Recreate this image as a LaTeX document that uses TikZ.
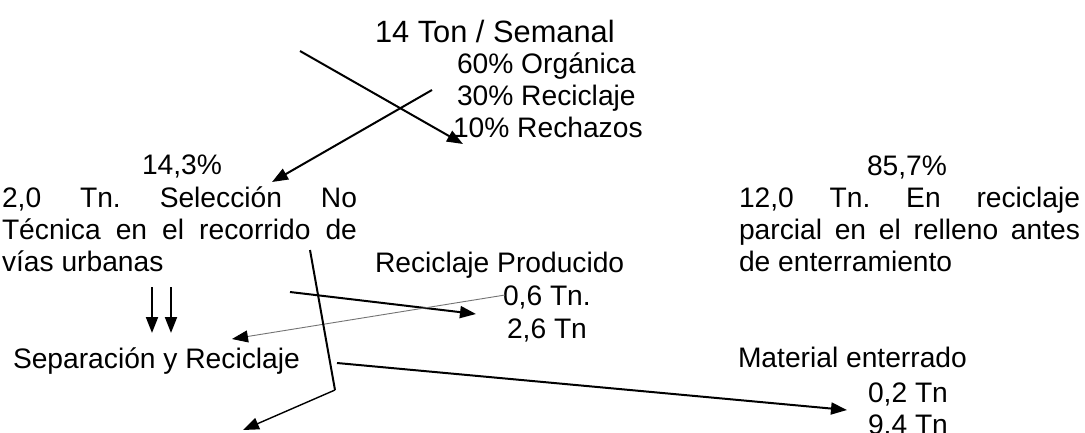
\documentclass[tikz,border=0pt]{standalone}
\usepackage{fontspec}
\setmainfont{Liberation Sans}
\usetikzlibrary{arrows.meta}
\frenchspacing
\begin{document}
\begin{tikzpicture}[x=1pt,y=-1pt,
  txt/.style={anchor=base west,inner sep=0pt,outer sep=0pt,font=\fontsize{28.2}{32}\selectfont},
  ttl/.style={anchor=base west,inner sep=0pt,outer sep=0pt,font=\fontsize{30.8}{34}\selectfont},
  arr/.style={line width=2pt,-{Triangle[length=16pt,width=12pt]}},
  thinarr/.style={line width=0.9pt,draw=black!55,-{Triangle[length=16pt,width=12pt,color=black]}},
  plain/.style={line width=2pt},
]
\useasboundingbox (0,0) rectangle (1085,432);
\clip (0,0) rectangle (1085,432);
% texts
\node[ttl] (title) at (375,42) {14 Ton / Semanal};
\node[txt] (org) at (457,73) {60\% Orgánica};
\node[txt] (rec) at (457,105) {30\% Reciclaje};
\node[txt] (rech) at (453,137) {10\% Rechazos};
\node[txt] (pctA) at (142,174) {14,3\%};
\node[txt] (selA) at (2,207) {\frenchspacing\makebox[355pt][s]{2,0 Tn. Selección No}};
\node[txt] (selB) at (2,239) {\makebox[355pt][s]{Técnica en el recorrido de}};
\node[txt] (selC) at (2,271) {vías urbanas};
\node[txt] (pctB) at (867,175) {85,7\%};
\node[txt] (relA) at (739,207) {\frenchspacing\makebox[341pt][s]{12,0 Tn. En reciclaje}};
\node[txt] (relB) at (739,239) {\makebox[341pt][s]{parcial en el relleno antes}};
\node[txt] (relC) at (739,271) {de enterramiento};
\node[txt] (recprod) at (375,272) {Reciclaje Producido};
\node[txt] (t06) at (503,305) {0,6 Tn.};
\node[txt] (t26) at (507,338) {2,6 Tn};
\node[txt] (sep) at (13,368) {Separación y Reciclaje};
\node[txt] (mat) at (738,367) {Material enterrado};
\node[txt] (t02) at (868,402) {0,2 Tn};
\node[txt] (t94) at (868,434) {9,4 Tn};
% connector end points
\coordinate (a1s) at (300,51);
\coordinate (a1e) at (463,144);
\coordinate (a2s) at (432,90);
\coordinate (a2e) at (272,182);
\coordinate (a3s) at (290,292);
\coordinate (a3e) at (476,314);
\coordinate (a4s) at (505,295);
\coordinate (a4e) at (232,339);
\coordinate (ls) at (310,250);
\coordinate (le) at (335,390);
\coordinate (a5e) at (243,430);
\coordinate (a6s) at (337,363);
\coordinate (a6e) at (847,410);
\coordinate (d1s) at (152,287);
\coordinate (d1e) at (152,333);
\coordinate (d2s) at (171,287);
\coordinate (d2e) at (171,333);
% connectors
\draw[arr] (a1s) -- (a1e);
\draw[arr] (a2s) -- (a2e);
\draw[arr] (a3s) -- (a3e);
\draw[thinarr] (a4s) -- (a4e);
\draw[plain] (ls) -- (le);
\draw[arr,line width=1.4pt] (le) -- (a5e);
\draw[arr] (a6s) -- (a6e);
\draw[arr] (d1s) -- (d1e);
\draw[arr] (d2s) -- (d2e);
\end{tikzpicture}
\end{document}
